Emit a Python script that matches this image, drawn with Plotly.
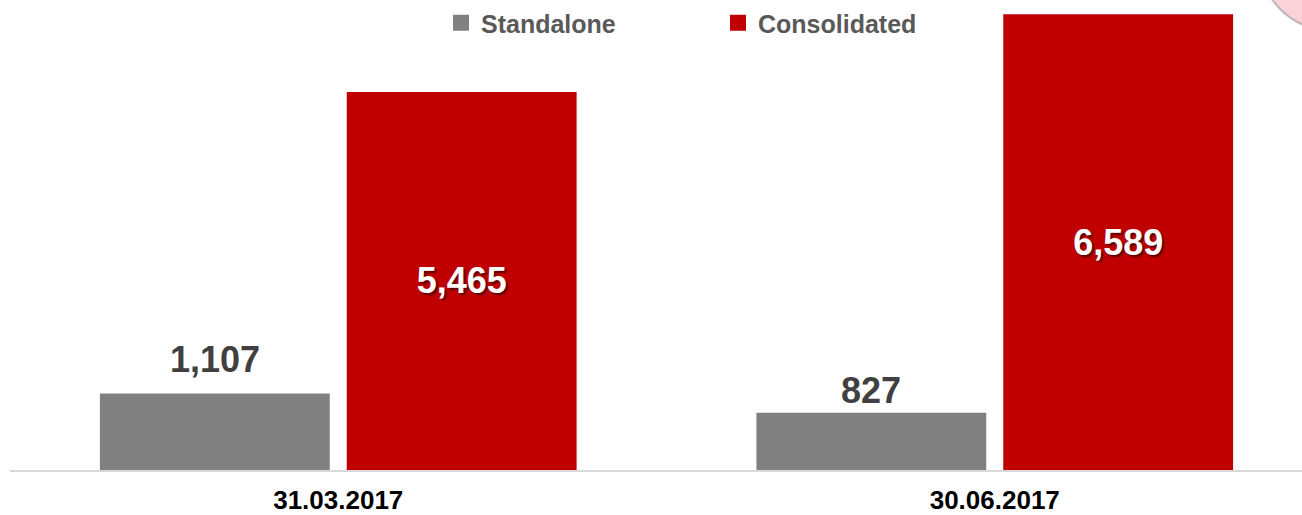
import plotly.graph_objects as go

categories = ["31.03.2017", "30.06.2017"]
standalone = [1107, 827]
consolidated = [5465, 6589]

# style: vertical pixel offsets of the grey-bar labels
label_yshift = [11, 0]

FONT = "Liberation Sans, Arial, sans-serif"
GRAY = "#808080"
RED = "#C00000"

fig = go.Figure()
fig.add_trace(go.Bar(
    name="Standalone", x=categories, y=standalone,
    marker=dict(color=GRAY, line=dict(width=0)),
    showlegend=False,
))
fig.add_trace(go.Bar(
    name="Consolidated", x=categories, y=consolidated,
    marker=dict(color=RED, line=dict(width=0)),
    texttemplate="%{y:,}", textposition="inside", insidetextanchor="middle",
    textfont=dict(family=FONT, size=36, color="#FFFFFF", weight="bold",
                  shadow="2px 2px 2px rgba(0,0,0,0.55)"),
    showlegend=False,
))
# legend-only entries with larger square symbols
for name, col in [("Standalone", GRAY), ("Consolidated", RED)]:
    fig.add_trace(go.Scatter(
        name=name, x=[None], y=[None], mode="markers",
        marker=dict(symbol="square", size=16, color=col), showlegend=True,
    ))

# labels above the grey bars
for c, v, ys in zip(categories, standalone, label_yshift):
    fig.add_annotation(
        x=c, y=v, text=f"{v:,}", showarrow=False, xanchor="center", yanchor="bottom",
        xshift=-123.5, yshift=ys,
        font=dict(family=FONT, size=36, color="#404040", weight="bold"),
    )

# decorative corner element (top right)
fig.add_shape(type="circle", xref="paper", yref="paper",
              x0=0.9675, x1=1.0759, y0=0.936, y1=1.234,
              fillcolor="#F9D3D7", line=dict(color="rgba(140,140,140,0.55)", width=2),
              layer="above")

fig.update_layout(
    width=1302, height=515,
    margin=dict(l=10, r=0, t=0, b=45),
    paper_bgcolor="white", plot_bgcolor="white",
    barmode="group", bargap=0.248, bargroupgap=0.0688,
    showlegend=True,
    legend=dict(orientation="h", x=0.3336, y=1.0, xanchor="left", yanchor="top",
                font=dict(family=FONT, size=25, color="#595959", weight="bold"),
                entrywidth=232, entrywidthmode="pixels",
                bgcolor="rgba(0,0,0,0)"),
)
fig.update_xaxes(
    range=[-0.5, 1.468], showline=True, linecolor="#D9D9D9", linewidth=2,
    ticks="", showgrid=False, ticklabelstandoff=6,
    tickfont=dict(family=FONT, size=26, color="#000000", weight="bold"),
)
fig.update_yaxes(range=[0, 6795], visible=False, showgrid=False, zeroline=False)

fig.write_html("out.html")
